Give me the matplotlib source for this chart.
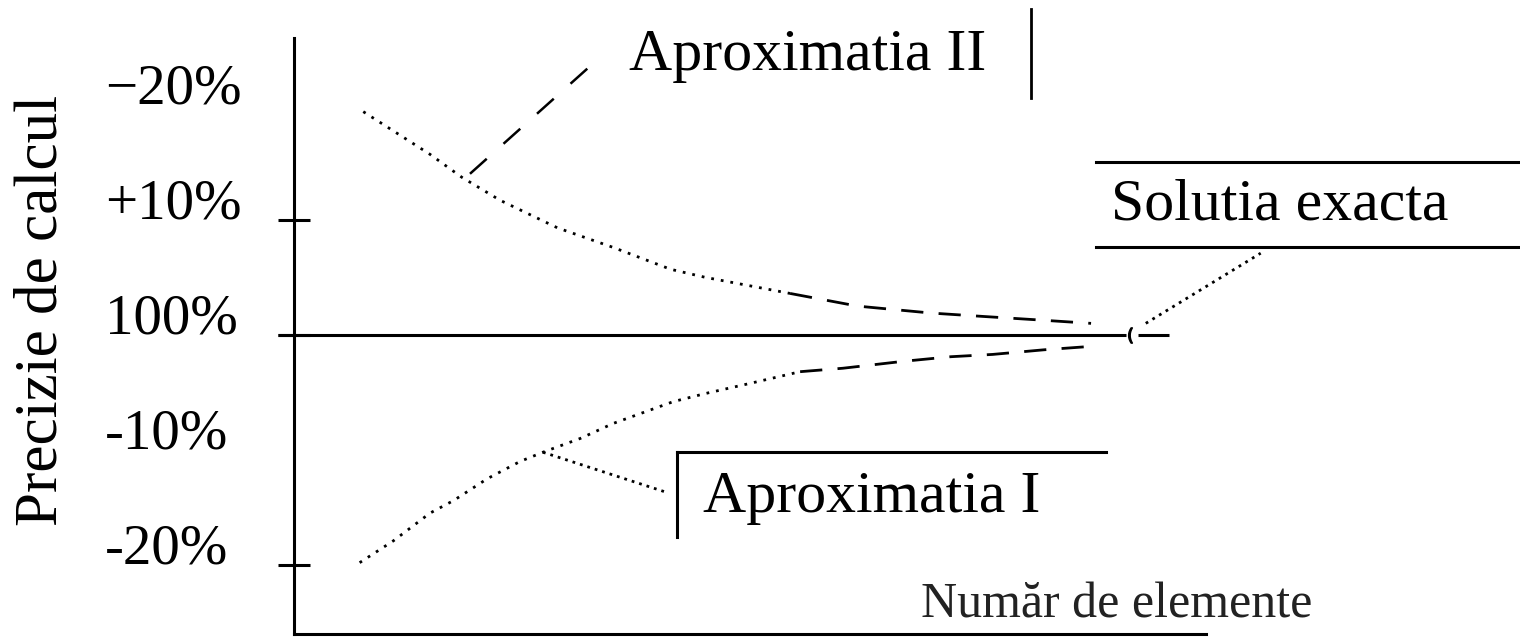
import numpy as np
import matplotlib.pyplot as plt
import matplotlib.transforms as mtransforms

plt.rcParams['font.family'] = ['Liberation Serif', 'DejaVu Serif']

# numar de elemente (unitati arbitrare) si abaterea de la solutia exacta (%)
x_sup = [7.6, 14.9, 18.4, 22.6, 28.9, 35.0, 41.3, 45.1, 54.4, 61.8, 69.8, 75.6, 81.6, 87.4]
y_sup = [19.4, 15.7, 13.7, 11.7, 9.3, 7.6, 5.7, 5.0, 3.6, 2.5, 1.9, 1.6, 1.3, 1.0]
x_inf = [7.2, 10.9, 14.9, 17.5, 21.2, 24.8, 27.3, 31.4, 35.0, 41.6, 45.1, 50.1, 55.5,
         60.2, 66.8, 72.0, 76.6, 82.2, 87.4]
y_inf = [-19.8, -17.9, -15.5, -14.4, -12.5, -11.0, -10.2, -9.0, -7.7, -5.8, -5.1, -4.2,
         -3.2, -2.9, -2.3, -1.9, -1.7, -1.3, -1.0]
tick_vals = [10, 0, -20]
label_vals = [20, 10, 0, -10, -20]
label_txt = ['\u221220%', '+10%', '100%', '-10%', '-20%']

fig = plt.figure(figsize=(15.2, 6.37), dpi=100)
ax = fig.add_axes([0.1934, 0.0047, 0.6, 0.9356])
ax.set_xlim(0, 100)
ax.set_ylim(-26, 25.8)
for s in ['top', 'right']:
    ax.spines[s].set_visible(False)
for s in ['left', 'bottom']:
    ax.spines[s].set_linewidth(2.2)
ax.set_xticks([])
ax.set_yticks(tick_vals)
ax.set_yticklabels([])
ax.tick_params(axis='y', direction='inout', length=23, width=2.2)

dot = (0, (1, 2.5))
dash = (0, (8, 5.5))
k = 9  # de aici curbele devin intrerupte
ax.plot(x_sup[:k], y_sup[:k], color='black', lw=2.0, ls=dot, clip_on=False)
ax.plot(x_sup[k - 1:], y_sup[k - 1:], color='black', lw=2.0, ls=dash, clip_on=False)
ax.plot(x_inf[:k + 4], y_inf[:k + 4], color='black', lw=2.0, ls=dot, clip_on=False)
ax.plot(x_inf[k + 3:], y_inf[k + 3:], color='black', lw=2.0, ls=dash, clip_on=False)

# solutia exacta
ax.plot([-1.8, 91.2], [0, 0], color='black', lw=2.2, clip_on=False, solid_capstyle='butt')
ax.plot([92.6, 96.0], [0, 0], color='black', lw=2.2, clip_on=False, solid_capstyle='butt')
ax.plot([91.7], [0], marker='$($', color='black', ms=11, clip_on=False)

# etichete axa y
off = mtransforms.offset_copy(ax.transData, fig=fig, x=0, y=15, units='dots')
for v, t in zip(label_vals, label_txt):
    ax.text(-20.7, v, t, transform=off, fontsize=41, ha='left', va='center', clip_on=False)

fig.text(42 / 1520, 1 - 310 / 637, 'Precizie de calcul', rotation=90, fontsize=44,
         ha='center', va='center')
ax.text(68.7, -24.6, 'Număr de elemente', fontsize=36, ha='left', va='baseline', color='#222222')

# Aproximatia II
ax.plot([19.3, 33.8], [14.0, 24.3], color='black', lw=1.8, ls=(0, (9, 9)), clip_on=False)
ax.text(36.7, 23.0, 'Aproximatia II', fontsize=43, ha='left', va='baseline', clip_on=False)
ax.plot([80.8, 80.8], [28.3, 20.6], color='black', lw=2.0, clip_on=False)

# Solutia exacta
ax.plot([93.4, 106.0], [1.0, 7.1], color='black', lw=2.0, ls=(0, (1, 1.8)), clip_on=False)
ax.plot([87.9, 134.6], [15.0, 15.0], color='black', lw=2.2, clip_on=False)
ax.plot([87.9, 134.6], [7.65, 7.65], color='black', lw=2.2, clip_on=False)
ax.text(89.6, 10.0, 'Solutia exacta', fontsize=43, ha='left', va='baseline', clip_on=False)

# Aproximatia I
ax.plot([27.3, 40.9], [-10.2, -13.7], color='black', lw=2.0, ls=(0, (1, 1.8)), clip_on=False)
ax.plot([42.0, 42.0], [-10.2, -17.6], color='black', lw=2.2, clip_on=False)
ax.plot([42.0, 89.0], [-10.2, -10.2], color='black', lw=2.2, clip_on=False)
ax.text(44.9, -15.4, 'Aproximatia I', fontsize=43, ha='left', va='baseline', clip_on=False)

fig.savefig('out.png', dpi=100)
